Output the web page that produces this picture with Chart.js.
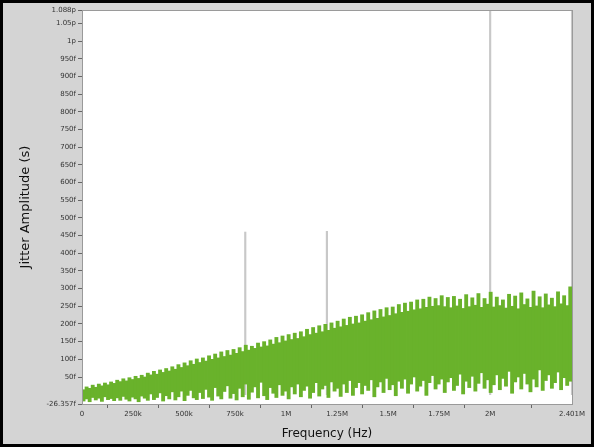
<!DOCTYPE html>
<html>
<head>
<meta charset="utf-8">
<script src="https://cdn.jsdelivr.net/npm/chart.js@4.4.0/dist/chart.umd.min.js"></script>
<style>
  html, body { margin: 0; padding: 0; background: #d4d4d4; }
  #wrap { width: 594px; height: 447px; }
</style>
</head>
<body>
<div id="wrap"><canvas id="jitterChart"></canvas></div>
<script>
// frequency axis (Hz)
const binStep = 15000;
const xMin = 0;
const xMax = 2401000;
const xTickValues = [0, 250000, 500000, 750000, 1000000, 1250000, 1500000, 1750000, 2000000, 2401000];

// amplitude axis (fs)
const yMin = -26.357;
const yMax = 1088;
const yTickValues = [-26.357, 50, 100, 150, 200, 250, 300, 350, 400, 450, 500, 550, 600, 650, 700, 750, 800, 850, 900, 950, 1000, 1050, 1088];

// noise floor, upper edge of each 15 kHz bin (fs)
const noiseHigh = [
  14, 22, 18, 27, 21, 30, 25, 33, 28, 36,
  32, 41, 37, 45, 39, 48, 43, 52, 46, 55,
  50, 61, 56, 66, 58, 70, 63, 74, 67, 79,
  72, 85, 77, 90, 82, 96, 86, 101, 91, 104,
  95, 110, 100, 115, 104, 121, 108, 125, 112, 128,
  117, 133, 122, 140, 126, 137, 131, 146, 135, 150,
  138, 155, 143, 162, 147, 166, 152, 170, 156, 174,
  159, 178, 164, 185, 170, 190, 174, 195, 178, 199,
  182, 203, 188, 208, 192, 214, 196, 219, 200, 222,
  203, 226, 208, 232, 212, 237, 216, 241, 220, 246,
  224, 248, 229, 255, 233, 259, 236, 262, 240, 268,
  243, 270, 247, 276, 250, 272, 252, 280, 249, 275,
  246, 278, 251, 270, 244, 283, 249, 274, 253, 286,
  247, 272, 256, 290, 248, 276, 252, 268, 245, 284,
  250, 279, 243, 288, 255, 271, 247, 293, 251, 277,
  246, 285, 254, 273, 249, 291, 257, 280, 252, 305
];

// noise floor, lower edge of each bin (fs)
const noiseLow = [
  -18, -12, -20, -8, -15, -10, -19, -6, -14, -11,
  -17, -9, -16, -5, -13, -18, -7, -12, -20, -4,
  -10, -16, 2, -14, -8, 5, -18, -3, -12, 8,
  -15, -6, 10, -17, -2, 12, -9, -14, 6, -11,
  15, -7, -16, 20, -4, -12, 9, 25, -10, 3,
  -15, 18, -6, 30, -13, 7, 22, -9, 35, -3,
  -14, 20, 4, -8, 28, -2, 10, -12, 22, 2,
  30, -6, 12, 24, -10, 6, 34, -4, 16, 26,
  -8, 36, 10, 18, -5, 30, 6, 40, -2, 20,
  34, 2, 26, 12, 42, -6, 22, 36, 6, 46,
  14, 28, -3, 38, 18, 44, 4, 30, 50, 10,
  24, 40, -2, 34, 54, 16, 30, 44, 6, 36,
  48, 12, 26, 58, 2, 38, 20, 52, 10, 32,
  62, 18, 42, 6, 28, 56, 14, 46, 24, 66,
  4, 36, 50, 16, 60, 30, 8, 44, 22, 70,
  12, 40, 56, 18, 34, 64, 14, 48, 26, 38
];

// discrete spurs
const spurFreqs = [800000, 1200000, 2000000, 2401000];
const spurValues = [460, 462, 1088, 1088];

const noisePoints = noiseHigh.map((v, i) => ({ x: i * binStep + binStep / 2, y: [noiseLow[i], v] }));
const spurPoints = spurFreqs.map((f, i) => ({ x: f, y: [0, spurValues[i]] }));

function fmtFreq(v) {
  if (v === 0) return '0';
  if (v < 1000000) return (v / 1000) + 'k';
  return (v / 1000000) + 'M';
}
function fmtAmp(v) {
  if (v === yMin) return '-26.357f';
  if (v >= 1000) return (v / 1000) + 'p';
  return v + 'f';
}

const framePlugin = {
  id: 'frame',
  beforeDraw(chart) {
    const { ctx, chartArea: a, width, height } = chart;
    ctx.save();
    ctx.fillStyle = '#d4d4d4';
    ctx.fillRect(0, 0, width, height);
    ctx.fillStyle = '#ffffff';
    ctx.fillRect(a.left, a.top, a.right - a.left, a.bottom - a.top);
    ctx.restore();
  },
  afterDraw(chart) {
    const { ctx, chartArea: a, width, height } = chart;
    ctx.save();
    ctx.strokeStyle = '#9a9a9a';
    ctx.lineWidth = 1;
    ctx.strokeRect(a.left + 0.5, a.top + 0.5, a.right - a.left, a.bottom - a.top);
    ctx.strokeStyle = '#000000';
    ctx.lineWidth = 3;
    ctx.strokeRect(1.5, 1.5, width - 3, height - 3);
    ctx.restore();
  }
};

new Chart(document.getElementById('jitterChart'), {
  type: 'bar',
  data: {
    datasets: [
      {
        data: noisePoints,
        backgroundColor: '#69b22b',
        barThickness: 3.2,
        grouped: false,
        order: 1
      },
      {
        data: spurPoints,
        backgroundColor: '#c8c8c8',
        barThickness: 1.5,
        grouped: false,
        order: 2
      }
    ]
  },
  options: {
    responsive: true,
    maintainAspectRatio: false,
    animation: false,
    layout: { padding: { left: 18, top: 10, right: 22, bottom: 6 } },
    plugins: {
      legend: { display: false },
      tooltip: { enabled: false }
    },
    scales: {
      x: {
        type: 'linear',
        min: xMin,
        max: xMax,
        offset: false,
        grid: { display: true, drawOnChartArea: false, tickLength: 4, color: '#666' },
        border: { display: true, color: '#888' },
        afterBuildTicks: s => { s.ticks = xTickValues.map(v => ({ value: v })); },
        afterFit: s => { s.height = 37; },
        ticks: {
          color: '#333',
          font: { family: 'DejaVu Sans', size: 7 },
          maxRotation: 0,
          autoSkip: false,
          padding: 2,
          callback: v => fmtFreq(v)
        },
        title: {
          display: true,
          text: 'Frequency (Hz)',
          color: '#111',
          font: { family: 'DejaVu Sans', size: 12 },
          padding: { top: 2, bottom: 0 }
        }
      },
      y: {
        type: 'linear',
        min: yMin,
        max: yMax,
        grid: { display: true, drawOnChartArea: false, tickLength: 4, color: '#666' },
        border: { display: true, color: '#888' },
        afterBuildTicks: s => { s.ticks = yTickValues.map(v => ({ value: v })); },
        afterFit: s => { s.width = 64; },
        ticks: {
          color: '#333',
          font: { family: 'DejaVu Sans', size: 7 },
          autoSkip: false,
          padding: 2,
          callback: v => fmtAmp(v)
        },
        title: {
          display: true,
          text: 'Jitter Amplitude (s)',
          color: '#111',
          font: { family: 'DejaVu Sans', size: 13 },
          padding: 0
        }
      }
    }
  },
  plugins: [framePlugin]
});
</script>
</body>
</html>
